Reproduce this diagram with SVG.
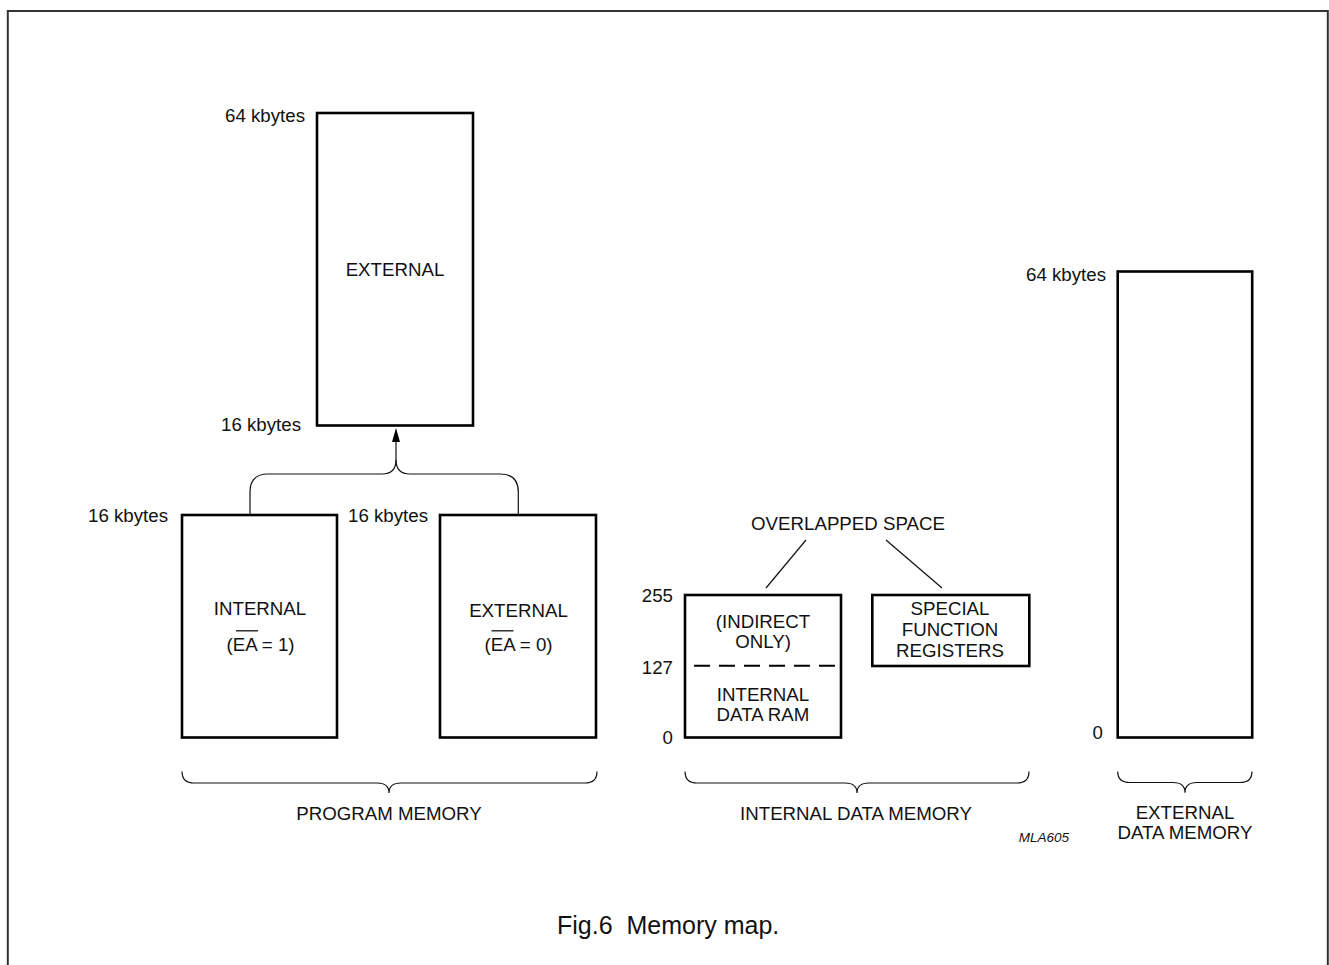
<svg xmlns="http://www.w3.org/2000/svg" width="1329" height="965" viewBox="0 0 1329 965">
<style>
text{font-family:"Liberation Sans",Arial,sans-serif;font-size:18.7px;fill:#111}
.box{fill:none;stroke:#000;stroke-width:2.6}
.ln{fill:none;stroke:#111;stroke-width:1.2}
.mid{text-anchor:middle}
.end{text-anchor:end}
</style>
<defs>
<marker id="arr" viewBox="0 0 14 8" refX="1" refY="4" markerWidth="14" markerHeight="8" markerUnits="userSpaceOnUse" orient="auto">
<path d="M0 0 L14 4 L0 8 Z" fill="#000"/>
</marker>
</defs>
<rect width="1329" height="965" fill="#fff"/>
<path d="M7.8 975 V11 H1327.8 V975" fill="none" stroke="#333" stroke-width="2"/>

<g id="prog-external">
<rect class="box" x="317" y="113" width="156" height="312.5"/>
<text class="mid" x="395" y="276">EXTERNAL</text>
<text class="end" x="305" y="122">64 kbytes</text>
<text class="end" x="301" y="431">16 kbytes</text>
</g>

<g id="prog-internal">
<rect class="box" x="182" y="515" width="155" height="222.5"/>
<text class="mid" x="260" y="615">INTERNAL</text>
<text class="mid" x="260.5" y="651">(EA = 1)</text>
<line x1="236" y1="630.8" x2="258" y2="630.8" stroke="#111" stroke-width="1.3"/>
<text class="end" x="168" y="522">16 kbytes</text>
</g>

<g id="prog-external-low">
<rect class="box" x="440" y="515" width="156" height="222.5"/>
<text class="mid" x="518.5" y="617">EXTERNAL</text>
<text class="mid" x="518.5" y="651">(EA = 0)</text>
<line x1="491.5" y1="630.8" x2="513.5" y2="630.8" stroke="#111" stroke-width="1.3"/>
<text class="end" x="428" y="522">16 kbytes</text>
</g>

<g id="internal-data-ram">
<rect class="box" x="685" y="595" width="156" height="142.5"/>
<line x1="694" y1="665.7" x2="835" y2="665.7" stroke="#000" stroke-width="2" stroke-dasharray="16 9"/>
<text class="mid" x="763" y="628">(INDIRECT</text>
<text class="mid" x="763" y="648">ONLY)</text>
<text class="mid" x="763" y="701">INTERNAL</text>
<text class="mid" x="763" y="721">DATA RAM</text>
<text class="end" x="673" y="602">255</text>
<text class="end" x="673" y="674">127</text>
<text class="end" x="673" y="744">0</text>
</g>

<g id="sfr">
<rect class="box" x="872.3" y="595" width="157" height="71"/>
<text class="mid" x="950" y="615">SPECIAL</text>
<text class="mid" x="950" y="636">FUNCTION</text>
<text class="mid" x="950" y="656.5">REGISTERS</text>
</g>

<g id="overlapped">
<text class="mid" x="848" y="530">OVERLAPPED SPACE</text>
</g>

<g id="ext-data">
<rect class="box" x="1117.7" y="271.5" width="134.5" height="466"/>
<text class="end" x="1106" y="281">64 kbytes</text>
<text class="end" x="1103" y="739">0</text>
</g>

<g id="connectors">
<path class="ln" d="M250 515 V492 Q250 474 268 474 H382 Q396 474 396 460 V441" marker-end="url(#arr)"/>
<path class="ln" d="M518.3 515 V492 Q518.3 474 500.3 474 H410 Q396 474 396 460"/>
<path class="ln" d="M806 540 L766 588"/>
<path class="ln" d="M886 540 L942 588"/>
<path class="ln" d="M182 771.5 Q182 783 194 783 H377 Q389 783 389 793 Q389 783 401 783 H585 Q597 783 597 771.5"/>
<path class="ln" d="M685 771.5 Q685 783 697 783 H845 Q857 783 857 793 Q857 783 869 783 H1017 Q1029 783 1029 771.5"/>
<path class="ln" d="M1117.7 771.5 Q1117.7 782.5 1129.7 782.5 H1173 Q1185 782.5 1185 792.7 Q1185 782.5 1197 782.5 H1240 Q1252 782.5 1252 771.5"/>
</g>

<g id="labels">
<text class="mid" x="389" y="820">PROGRAM MEMORY</text>
<text class="mid" x="856" y="820">INTERNAL DATA MEMORY</text>
<text class="mid" x="1185" y="819">EXTERNAL</text>
<text class="mid" x="1185" y="839">DATA MEMORY</text>
<text class="end" x="1069" y="842" style="font-size:13.5px;font-style:italic">MLA605</text>
<text x="557" y="934" xml:space="preserve" style="font-size:25px">Fig.6  Memory map.</text>
</g>
</svg>
